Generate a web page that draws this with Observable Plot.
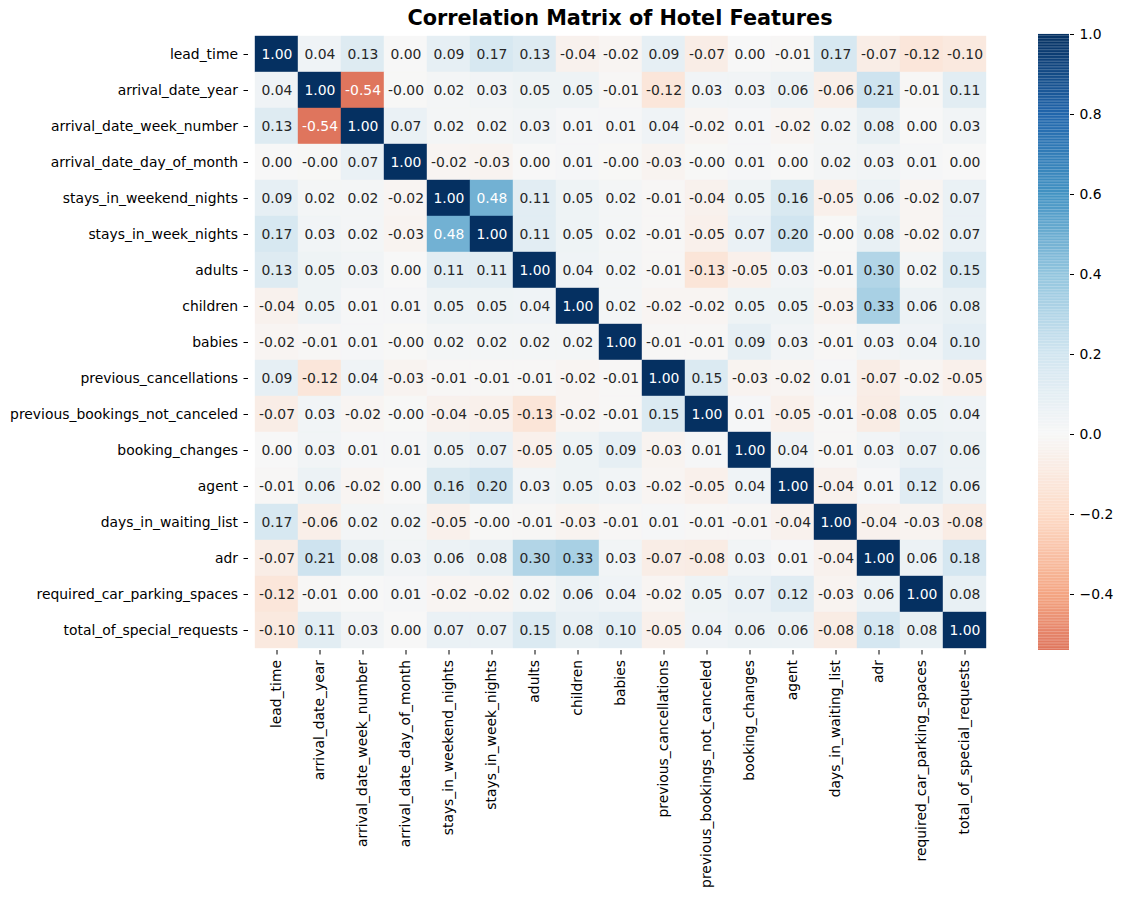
<!DOCTYPE html>
<html>
<head>
<meta charset="utf-8">
<script src="https://cdn.jsdelivr.net/npm/d3@7"></script>
<script src="https://cdn.jsdelivr.net/npm/@observablehq/plot@0.6"></script>
<style>
  body { margin: 0; background: #fff; }
  #wrap { position: relative; width: 1122px; height: 898px; font-family: "DejaVu Sans", sans-serif; }
  #title { position: absolute; left: 248px; width: 744px; top: 6px; text-align: center;
           font-weight: bold; font-size: 20.8px; color: #000; }
  #wrap svg { position: absolute; top: 0; }
</style>
</head>
<body>
<div id="wrap"><div id="title">Correlation Matrix of Hotel Features</div></div>
<script>
// Numeric hotel booking features (rows and columns share the same order)
const features = [
  "lead_time", "arrival_date_year", "arrival_date_week_number", "arrival_date_day_of_month",
  "stays_in_weekend_nights", "stays_in_week_nights", "adults", "children", "babies",
  "previous_cancellations", "previous_bookings_not_canceled", "booking_changes", "agent",
  "days_in_waiting_list", "adr", "required_car_parking_spaces", "total_of_special_requests"
];

// Pearson correlations, two decimals (tiny negatives kept so they print as -0.00)
const corr = [
  [ 1.00,  0.04,  0.13,  0.00,  0.09,  0.17,  0.13, -0.04, -0.02,  0.09, -0.07,  0.00, -0.01,  0.17, -0.07, -0.12, -0.10],
  [ 0.04,  1.00, -0.54, -0.003, 0.02,  0.03,  0.05,  0.05, -0.01, -0.12,  0.03,  0.03,  0.06, -0.06,  0.21, -0.01,  0.11],
  [ 0.13, -0.54,  1.00,  0.07,  0.02,  0.02,  0.03,  0.01,  0.01,  0.04, -0.02,  0.01, -0.02,  0.02,  0.08,  0.00,  0.03],
  [ 0.00, -0.003, 0.07,  1.00, -0.02, -0.03,  0.00,  0.01, -0.003,-0.03, -0.003, 0.01,  0.00,  0.02,  0.03,  0.01,  0.00],
  [ 0.09,  0.02,  0.02, -0.02,  1.00,  0.48,  0.11,  0.05,  0.02, -0.01, -0.04,  0.05,  0.16, -0.05,  0.06, -0.02,  0.07],
  [ 0.17,  0.03,  0.02, -0.03,  0.48,  1.00,  0.11,  0.05,  0.02, -0.01, -0.05,  0.07,  0.20, -0.003, 0.08, -0.02,  0.07],
  [ 0.13,  0.05,  0.03,  0.00,  0.11,  0.11,  1.00,  0.04,  0.02, -0.01, -0.13, -0.05,  0.03, -0.01,  0.30,  0.02,  0.15],
  [-0.04,  0.05,  0.01,  0.01,  0.05,  0.05,  0.04,  1.00,  0.02, -0.02, -0.02,  0.05,  0.05, -0.03,  0.33,  0.06,  0.08],
  [-0.02, -0.01,  0.01, -0.003, 0.02,  0.02,  0.02,  0.02,  1.00, -0.01, -0.01,  0.09,  0.03, -0.01,  0.03,  0.04,  0.10],
  [ 0.09, -0.12,  0.04, -0.03, -0.01, -0.01, -0.01, -0.02, -0.01,  1.00,  0.15, -0.03, -0.02,  0.01, -0.07, -0.02, -0.05],
  [-0.07,  0.03, -0.02, -0.003,-0.04, -0.05, -0.13, -0.02, -0.01,  0.15,  1.00,  0.01, -0.05, -0.01, -0.08,  0.05,  0.04],
  [ 0.00,  0.03,  0.01,  0.01,  0.05,  0.07, -0.05,  0.05,  0.09, -0.03,  0.01,  1.00,  0.04, -0.01,  0.03,  0.07,  0.06],
  [-0.01,  0.06, -0.02,  0.00,  0.16,  0.20,  0.03,  0.05,  0.03, -0.02, -0.05,  0.04,  1.00, -0.04,  0.01,  0.12,  0.06],
  [ 0.17, -0.06,  0.02,  0.02, -0.05, -0.003,-0.01, -0.03, -0.01,  0.01, -0.01, -0.01, -0.04,  1.00, -0.04, -0.03, -0.08],
  [-0.07,  0.21,  0.08,  0.03,  0.06,  0.08,  0.30,  0.33,  0.03, -0.07, -0.08,  0.03,  0.01, -0.04,  1.00,  0.06,  0.18],
  [-0.12, -0.01,  0.00,  0.01, -0.02, -0.02,  0.02,  0.06,  0.04, -0.02,  0.05,  0.07,  0.12, -0.03,  0.06,  1.00,  0.08],
  [-0.10,  0.11,  0.03,  0.00,  0.07,  0.07,  0.15,  0.08,  0.10, -0.05,  0.04,  0.06,  0.06, -0.08,  0.18,  0.08,  1.00]
];

// Colour bar tick values
const colorbarTicks = [-0.4, -0.2, 0.0, 0.2, 0.4, 0.6, 0.8, 1.0];

// Long-form table for the cell and text marks
const cells = [];
features.forEach((row, i) => features.forEach((col, j) => cells.push({row, col, value: corr[i][j]})));

const vmin = d3.min(cells, d => d.value);
const vmax = d3.max(cells, d => d.value);

// Diverging RdBu map centred on zero, spanning [-1, 1]
const rdbu = d3.schemeRdBu[11];
const cmap = d3.scaleLinear()
  .domain(d3.range(11).map(i => -1 + i * 0.2))
  .range(rdbu)
  .interpolate(d3.interpolateRgb)
  .clamp(true);

function luminance(c) {
  const {r, g, b} = d3.rgb(c);
  const f = v => { v /= 255; return v <= 0.03928 ? v / 12.92 : Math.pow((v + 0.055) / 1.055, 2.4); };
  return 0.2126 * f(r) + 0.7152 * f(g) + 0.0722 * f(b);
}
const textColor = v => luminance(cmap(v)) > 0.408 ? "#262626" : "#ffffff";
const fmt = v => v.toFixed(2);

const font = {fontFamily: "DejaVu Sans, sans-serif", fontSize: "13.9px", color: "#000", background: "transparent"};

const heatmap = Plot.plot({
  width: 994, height: 898,
  marginLeft: 248, marginRight: 2, marginTop: 34, marginBottom: 248,
  x: {domain: features, padding: 0, label: null},
  y: {domain: features, padding: 0, label: null},
  color: {type: "identity"},
  style: font,
  marks: [
    Plot.cell(cells, {x: "col", y: "row", fill: d => cmap(d.value), stroke: d => cmap(d.value), strokeWidth: 0.4, inset: 0}),
    Plot.text(cells, {x: "col", y: "row", text: d => fmt(d.value), fill: d => textColor(d.value), fontSize: 13.9}),
    Plot.axisX({anchor: "bottom", tickRotate: -90, tickSize: 4.5, tickPadding: 5, label: null, fontSize: 13.9}),
    Plot.axisY({anchor: "left", tickSize: 4.5, tickPadding: 6, label: null, fontSize: 13.9})
  ]
});
heatmap.style.left = "0px";

// Vertical colour bar covering the data range
const steps = 400;
const stepSize = (vmax - vmin) / steps;
const bands = d3.range(steps).map(i => vmin + i * stepSize);

const colorbar = Plot.plot({
  width: 92, height: 898,
  marginLeft: 8, marginRight: 53, marginTop: 34, marginBottom: 248,
  x: {domain: [0, 1], axis: null},
  y: {domain: [vmin, vmax], label: null},
  color: {type: "identity"},
  style: font,
  marks: [
    Plot.rect(bands, {x1: 0, x2: 1, y1: d => d, y2: d => d + stepSize * 1.05, fill: d => cmap(d + stepSize / 2)}),
    Plot.axisY({anchor: "right", ticks: colorbarTicks, tickSize: 4, tickPadding: 6, label: null, fontSize: 13.9,
                tickFormat: v => v.toFixed(1).replace("-", "\u2212")})
  ]
});
colorbar.style.left = "1030px";

const wrap = document.getElementById("wrap");
wrap.appendChild(heatmap);
wrap.appendChild(colorbar);
</script>
</body>
</html>
